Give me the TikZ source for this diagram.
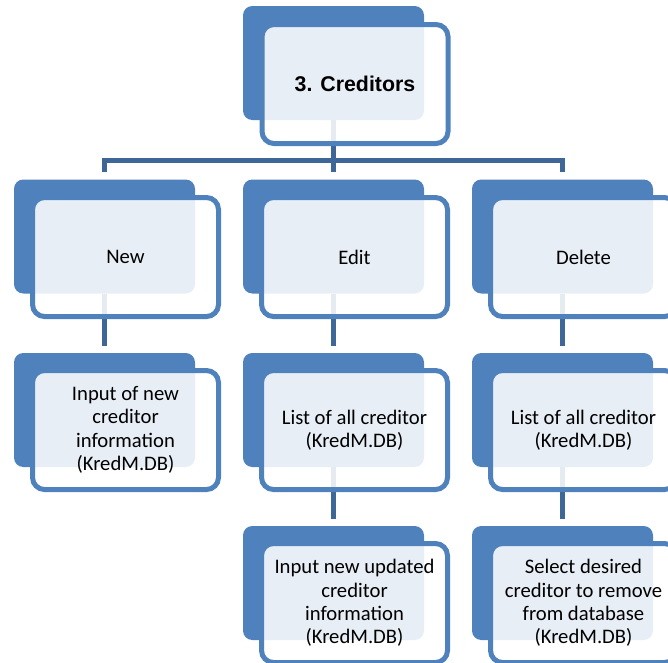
\documentclass[tikz,border=0pt]{standalone}
\usepackage{fontspec}
\setmainfont{Carlito}
\newfontfamily\titlefont{Liberation Sans}
\usetikzlibrary{positioning}
\definecolor{boxblue}{RGB}{79,129,189}
\definecolor{lineblue}{RGB}{62,102,151}

\begin{document}
\begin{tikzpicture}
  [x=0.75pt,y=-0.75pt,
  back/.style={rectangle,rounded corners=7pt,fill=boxblue,draw=none,inner sep=0pt,minimum width=135.75pt,minimum height=85.5pt},
  front/.style={rectangle,rounded corners=9pt,draw=boxblue,line width=3.75pt,fill=white,fill opacity=0.87,text opacity=1,inner sep=0pt,minimum width=139.5pt,minimum height=89.25pt,align=center,font=\fontsize{15.5}{17.6}\selectfont},
  conn/.style={draw=lineblue,line width=3.75pt}]
  \useasboundingbox (0,0) rectangle (668,662);
  \clip (0,0) rectangle (668,662);

  \node[back] (b1) at (333.5,63) {};

  \node[back] (b2) at (104.5,236.5) {};
  \node[back] (b3) at (333.5,236.5) {};
  \node[back] (b4) at (562.5,236.5) {};

  \node[back] (b5) at (104.5,410) {};
  \node[back] (b6) at (333.5,410) {};
  \node[back] (b7) at (562.5,410) {};

  \node[back] (b8) at (333.5,583) {};
  \node[back] (b9) at (562.5,583) {};

  % connectors
  \coordinate (bar) at (333.5,160);
  \draw[conn] (b1.south) -- (bar);
  \draw[conn,shorten <=5.25pt,shorten >=5.25pt] (b2.north) |- (bar) -| (b4.north);
  \draw[conn,shorten >=5.25pt] (bar) -- (b3.north);
  \draw[conn,shorten >=5.25pt] (b2.south) -- (b5.north);
  \draw[conn,shorten >=5.25pt] (b3.south) -- (b6.north);
  \draw[conn,shorten >=5.25pt] (b4.south) -- (b7.north);
  \draw[conn,shorten >=5.25pt] (b6.south) -- (b8.north);
  \draw[conn,shorten >=5.25pt] (b7.south) -- (b9.north);

  \node[front,font=\titlefont\bfseries\fontsize{16}{19}\selectfont] (f1) at (355,84) {3. Creditors};

  \node[front] (f2) at (125.5,257) {New};
  \node[front] (f3) at (354.5,257) {Edit};
  \node[front] (f4) at (583.5,257) {Delete};

  \node[front] (f5) at (125.5,430) {Input of new\\creditor\\information\\(KredM.DB)};
  \node[front] (f6) at (354.5,430) {List of all creditor\\(KredM.DB)};
  \node[front] (f7) at (583.5,430) {List of all creditor\\(KredM.DB)};

  \node[front] (f8) at (354.5,603) {Input new updated\\creditor\\information\\(KredM.DB)};
  \node[front] (f9) at (583.5,603) {Select desired\\creditor to remove\\from database\\(KredM.DB)};
\end{tikzpicture}
\end{document}
